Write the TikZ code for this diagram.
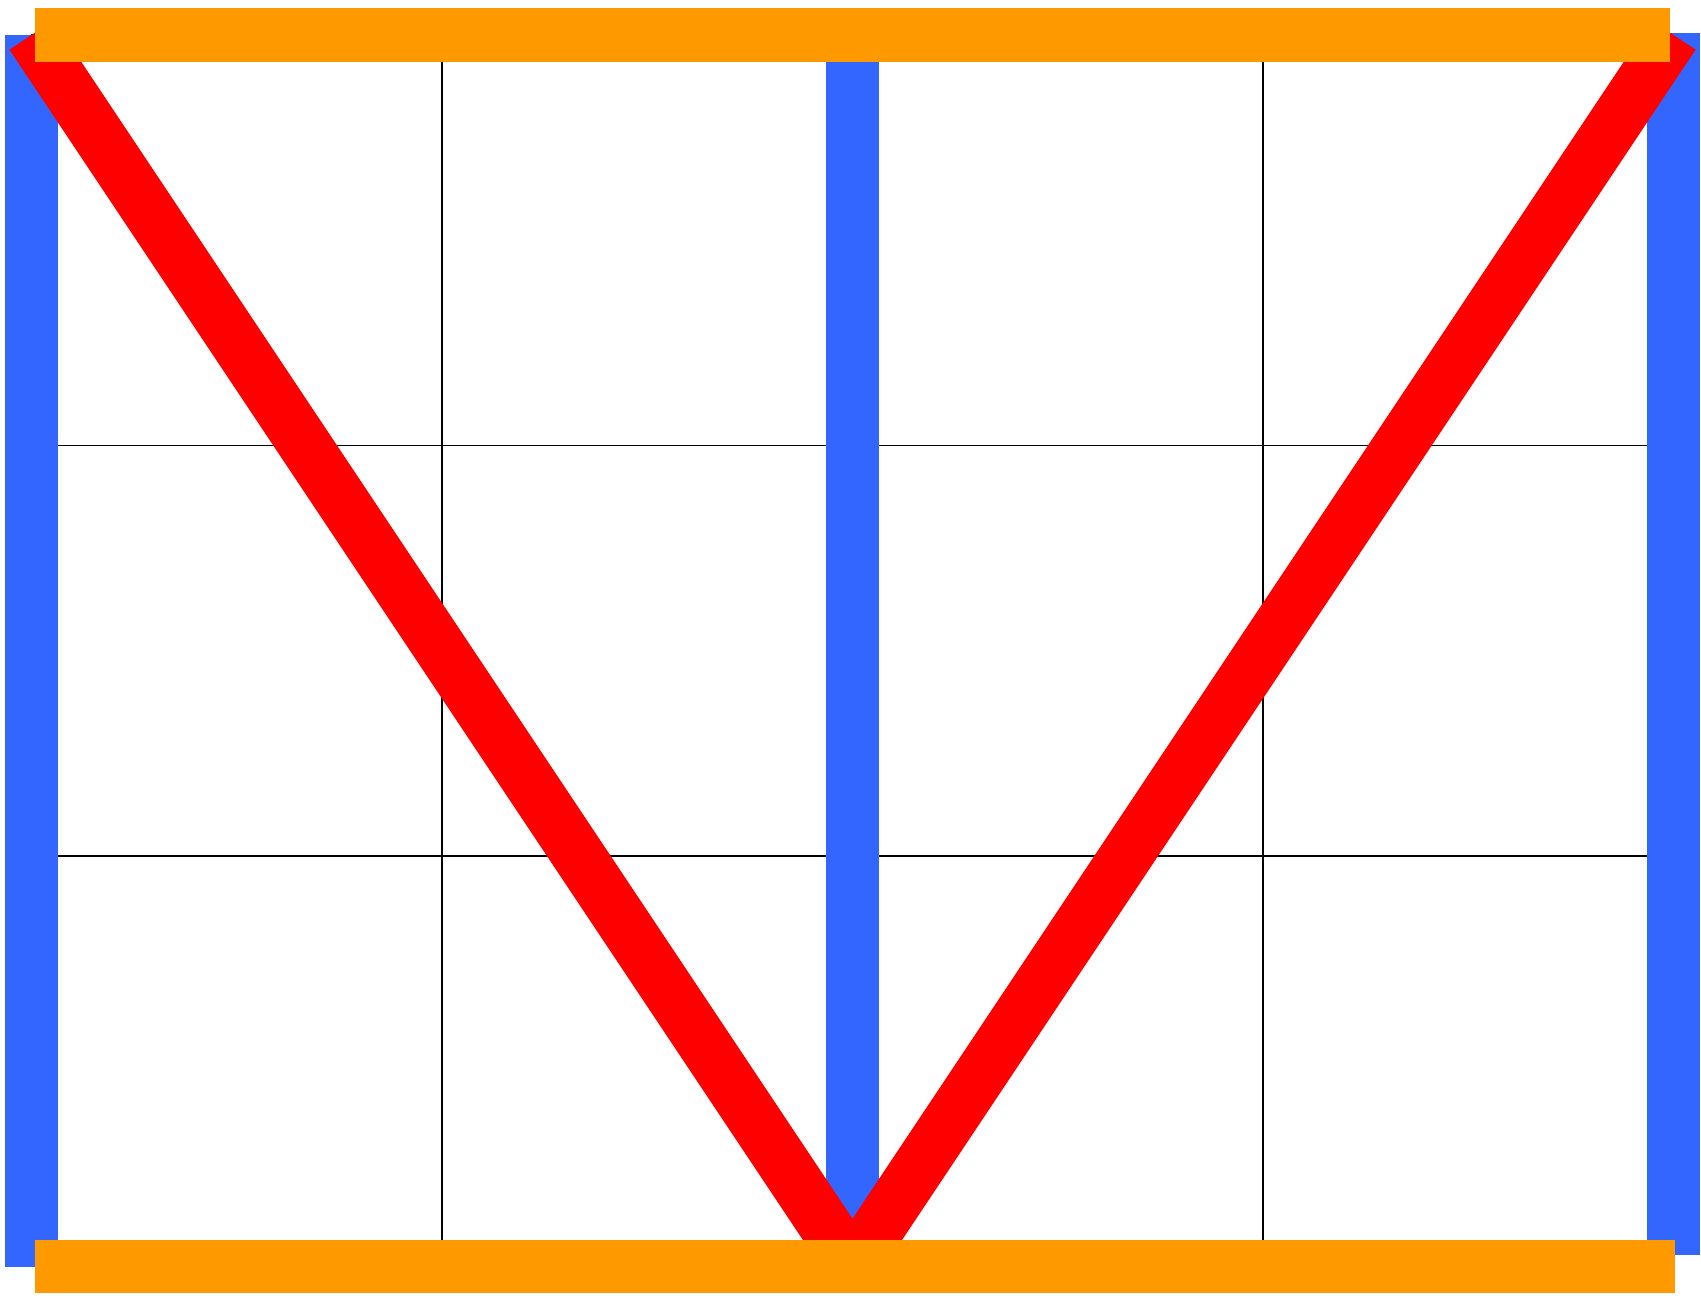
\documentclass[tikz,border=0pt]{standalone}
\usepackage{tikz}
\definecolor{BarBlue}{RGB}{51,102,255}
\definecolor{BarOrange}{RGB}{255,153,0}
\definecolor{BarRed}{RGB}{255,0,0}

\begin{document}
\begin{tikzpicture}[x=3cm, y=3cm,
  gridline/.style={line width=0.4pt, black},
  post/.style={line width=0.388cm, BarBlue},
  brace/.style={line width=0.388cm, BarRed, line join=bevel},
  chord/.style={line width=0.388cm, BarOrange}]

\useasboundingbox (-0.0767,-0.0768) rectangle (4.0670,3.0853);

% Grid
\draw[gridline, step=3cm] (0,0) grid (4,3);

% Corner and mid points
\coordinate (bl) at (0,0);
\coordinate (tl) at (0,3);
\coordinate (bm) at (2,0);
\coordinate (tm) at (2,3);
\coordinate (br) at (4,0.028);
\coordinate (tr) at (4,3.005);

% --- Vertical posts ---
\draw[post] (tl) -- (bl);
\draw[post] (tm) -- (bm);
\draw[post] (tr) -- (br);

% --- Diagonal braces ---
\draw[brace] (tl) -- (bm) -- (4,3);

% --- Top and bottom chords ---
\draw[chord] (0.0085,3) -- (3.9915,3);
\draw[chord] (0.0085,0) -- (4.0037,0);

\end{tikzpicture}
\end{document}
